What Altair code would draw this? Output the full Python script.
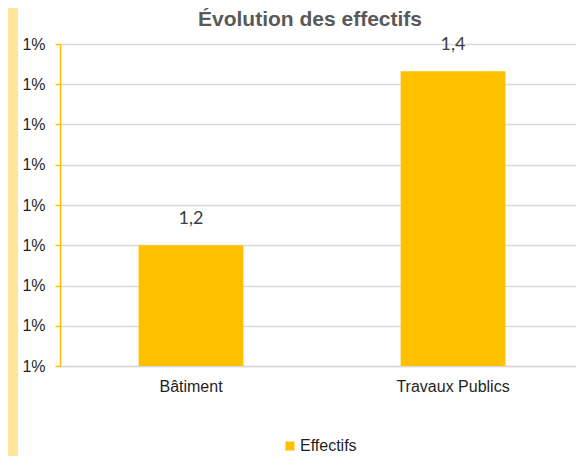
import altair as alt
import pandas as pd

categories = ["Bâtiment", "Travaux Publics"]
values = [1.2, 1.416]
series_name = "Effectifs"
chart_title = "Évolution des effectifs"
y_ticks = [1.05, 1.10, 1.15, 1.20, 1.25, 1.30, 1.35, 1.40, 1.45]

df = pd.DataFrame({"cat": categories, "val": values, "serie": [series_name] * len(categories)})

W, H = 516, 322
FONT = "Liberation Sans"
ORANGE = "#FFC000"

x = alt.X("cat:N", sort=categories, title=None,
          scale=alt.Scale(paddingInner=0.6, paddingOuter=0.2847, align=0.527),
          axis=alt.Axis(labelAngle=0, ticks=False, labelPadding=12, labelFontSize=16,
                        labelFont=FONT, labelColor="#1F1F1F", domainColor="#D9D9D9",
                        domainWidth=1.5))
y = alt.Y("val:Q", title=None,
          scale=alt.Scale(domain=[y_ticks[0], y_ticks[-1]], clamp=True, nice=False, zero=False),
          axis=alt.Axis(values=y_ticks, labelExpr="format(floor(datum.value + 1e-9), 'd') + '%'",
                        labelFontSize=16, labelFont=FONT, labelColor="#1F1F1F",
                        domainColor=ORANGE, domainWidth=1.5, tickColor=ORANGE, tickSize=5,
                        tickWidth=1.5, labelPadding=10, grid=True, gridColor="#D9D9D9",
                        gridWidth=1.5))

base = alt.Chart(df)
first_only = "datum.cat == '%s'" % categories[0]

strip = base.mark_rect(color="#FFE699").encode(
    x=alt.value(-52), x2=alt.value(-42), y=alt.value(-40), y2=alt.value(430)
).transform_filter(first_only)

title = base.mark_text(font=FONT, fontSize=21, fontWeight="bold", color="#595959",
                       align="center", baseline="alphabetic").encode(
    x=alt.value(250), y=alt.value(-18), text=alt.value(chart_title)
).transform_filter(first_only)

bars = base.mark_bar().encode(
    x=x, y=y,
    color=alt.Color("serie:N", scale=alt.Scale(domain=[series_name], range=[ORANGE]),
                    legend=alt.Legend(title=None, orient="none", legendX=222, legendY=394,
                                      symbolType="square", symbolSize=81, symbolStrokeWidth=0,
                                      labelFontSize=16, labelFont=FONT, labelColor="#1F1F1F",
                                      labelOffset=2, padding=0))
)

labels = base.transform_calculate(
    lab="replace(format(datum.val, '.1f'), '.', ',')"
).mark_text(font="Lato", fontSize=18, color="#404040", baseline="middle", dy=-26).encode(
    x=alt.X("cat:N", sort=categories), y=alt.Y("val:Q"), text="lab:N"
)

chart = alt.layer(strip, title, bars, labels).properties(
    width=W, height=H,
    autosize=alt.AutoSizeParams(type="none"),
    padding={"left": 52, "top": 36, "right": 0, "bottom": 90},
).configure_view(stroke=None).configure(background="white")

chart.save("out.html", embed_options={"renderer": "svg", "actions": False})
